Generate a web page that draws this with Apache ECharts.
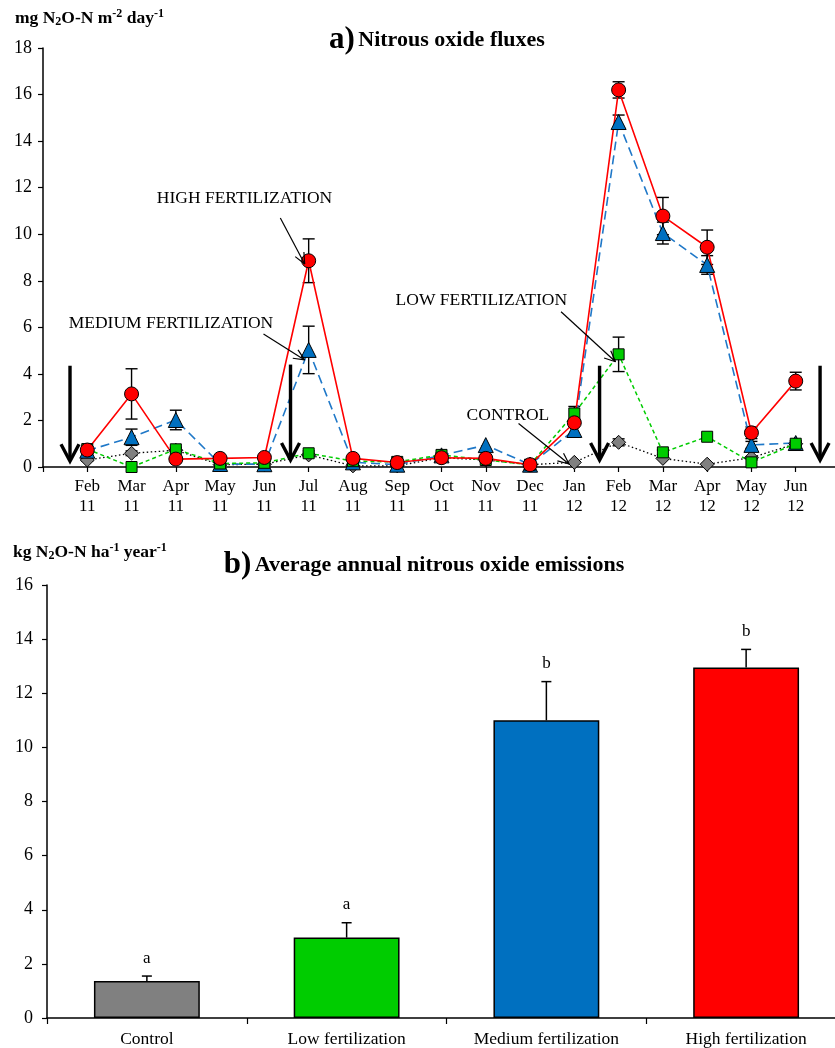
<!DOCTYPE html>
<html><head><meta charset="utf-8">
<script src="https://cdn.jsdelivr.net/npm/echarts@6/dist/echarts.min.js"></script>
<style>html,body{margin:0;padding:0;background:#fff;overflow:hidden}#c{width:860px;height:1048px}</style>
</head><body><div id="c"></div>
<script>
// ---------- Panel a: monthly fluxes (mg N2O-N m-2 day-1) ----------
const months = ['Feb\n11','Mar\n11','Apr\n11','May\n11','Jun\n11','Jul\n11','Aug\n11','Sep\n11','Oct\n11','Nov\n11','Dec\n11','Jan\n12','Feb\n12','Mar\n12','Apr\n12','May\n12','Jun\n12'];
const control    = [0.30,0.59,0.72,0.10,0.12,0.52,0.05,0.05,0.40,0.30,0.10,0.20,1.06,0.37,0.12,0.40,1.00];
const controlErr = [0.05,0.10,0,0,0,0.08,0,0,0,0,0,0,0.15,0,0,0,0];
const low        = [0.77,0.00,0.76,0.15,0.18,0.59,0.25,0.22,0.52,0.30,0.10,2.30,4.84,0.63,1.30,0.20,1.00];
const lowErr     = [0.05,0,0.08,0,0,0.10,0,0,0.08,0,0,0.30,0.74,0.10,0,0,0.08];
const medium     = [0.70,1.28,2.02,0.13,0.12,5.03,0.20,0.10,0.50,0.94,0.10,1.59,14.82,10.05,8.68,0.95,1.03];
const mediumErr  = [0,0.35,0.42,0,0,1.02,0,0,0,0,0,0.30,0.30,0.47,0.40,0.15,0.10];
const high       = [0.73,3.14,0.34,0.37,0.41,8.86,0.37,0.19,0.40,0.37,0.10,1.90,16.20,10.78,9.44,1.47,3.69];
const highErr    = [0.15,1.08,0,0,0,0.94,0,0,0,0,0,0,0.35,0.80,0.74,0.25,0.38];
const fluxTicks  = {min:0, max:18, interval:2};
// fertilization events (month-index position, arrow top, arrow bottom)
const fertEvents = [[-0.39,4.35,0.25],[4.59,4.40,0.30],[11.57,4.35,0.30],[16.55,4.35,0.30]];
// annotations: [text x, text y, arrow from x, from y, arrow to x, to y] in data units
const annotTexts = ['HIGH FERTILIZATION','MEDIUM FERTILIZATION','LOW FERTILIZATION','CONTROL'];
const annotPos = [
  [3.55,11.55, 4.36,10.70, 4.91,8.72],
  [1.89,6.19, 3.98,5.71, 4.91,4.60],
  [8.90,7.17, 10.70,6.67, 11.93,4.52],
  [9.50,2.23, 9.74,1.87, 10.88,0.13]
];

// ---------- Panel b: annual emissions (kg N2O-N ha-1 year-1) ----------
const treatments = ['Control','Low fertilization','Medium fertilization','High fertilization'];
const annual     = [1.37, 2.97, 11.00, 12.95];
const annualErr  = [0.18, 0.55, 1.43, 0.67];
const letters    = ['a','a','b','b'];
const barColors  = ['#808080','#00cc00','#0070c0','#ff0000'];
const annualTicks = {min:0, max:16, interval:2};

const FONT = '"Liberation Serif", "Times New Roman", serif';

function pairs(arr){ return arr.map((v,i)=>[i,v]); }
function triples(arr, err){ return arr.map((v,i)=>[i,v,err[i]]); }

function errRender(capW){
  return function(params, api){
    const x = api.value(0), y = api.value(1), e = api.value(2);
    if(!e) return null;
    const t = api.coord([x, y+e]), b = api.coord([x, y-e]);
    const st = {stroke:'#000', lineWidth:1.4};
    return {type:'group', children:[
      {type:'line', shape:{x1:t[0],y1:t[1],x2:b[0],y2:b[1]}, style:st},
      {type:'line', shape:{x1:t[0]-capW,y1:t[1],x2:t[0]+capW,y2:t[1]}, style:st},
      {type:'line', shape:{x1:b[0]-capW,y1:b[1],x2:b[0]+capW,y2:b[1]}, style:st}
    ]};
  };
}

function errSeries(arr, err){
  return {type:'custom', xAxisIndex:0, yAxisIndex:0, z:1, silent:true,
    data:triples(arr, err), encode:{x:0,y:1}, renderItem:errRender(6)};
}

function lineSeries(name, arr, color, lineType, lineW, symbol, size, fill){
  return {name, type:'line', xAxisIndex:0, yAxisIndex:0, z:3, silent:true,
    data:pairs(arr), symbol, symbolSize:size, showSymbol:true,
    lineStyle:{color, type:lineType, width:lineW},
    itemStyle:{color:fill, borderColor:'#000', borderWidth:1},
    emphasis:{disabled:true}};
}

function headLines(p1, p2, len, ang, st){
  const dx = p2[0]-p1[0], dy = p2[1]-p1[1];
  const a = Math.atan2(dy, dx);
  const out = [];
  [ang, -ang].forEach(s=>{
    const b = a + Math.PI - s;
    out.push({type:'line', shape:{x1:p2[0], y1:p2[1], x2:p2[0]+len*Math.cos(b), y2:p2[1]+len*Math.sin(b)}, style:st});
  });
  return out;
}

const titleRich = {a:{fontFamily:FONT, fontSize:31, fontWeight:'bold', fill:'#000'}, t:{fontFamily:FONT, fontSize:22, fontWeight:'bold', fill:'#000'}};
const unitRich = {b:{fontFamily:FONT, fontSize:17.5, fontWeight:'bold', fill:'#000', lineHeight:20},
            sub:{fontFamily:FONT, fontSize:12, fontWeight:'bold', fill:'#000', verticalAlign:'bottom', lineHeight:20},
            sup:{fontFamily:FONT, fontSize:12, fontWeight:'bold', fill:'#000', verticalAlign:'top', lineHeight:20}};

const option = {
  animation:false,
  backgroundColor:'#fff',
  textStyle:{fontFamily:FONT},
  graphic:[
    {type:'text', x:437, y:40, style:{text:'{a|a)} {t|Nitrous oxide fluxes}', align:'center', verticalAlign:'middle', rich:titleRich}},
    {type:'text', x:424, y:565, style:{text:'{a|b)} {t|Average annual nitrous oxide emissions}', align:'center', verticalAlign:'middle', rich:titleRich}},
    {type:'text', x:15, y:18, style:{text:'{b|mg N}{sub|2}{b|O-N m}{sup|-2}{b| day}{sup|-1}', align:'left', verticalAlign:'middle', rich:unitRich}},
    {type:'text', x:13, y:552, style:{text:'{b|kg N}{sub|2}{b|O-N ha}{sup|-1}{b| year}{sup|-1}', align:'left', verticalAlign:'middle', rich:unitRich}}
  ],
  grid:[
    {left:43, width:797, top:48, height:419},
    {left:47, width:799, top:585, height:433}
  ],
  xAxis:[
    {type:'value', gridIndex:0, min:-1, max:17, interval:1,
     axisLine:{show:true, onZero:false, lineStyle:{color:'#000', width:1.5}},
     axisTick:{show:true, length:5, lineStyle:{color:'#000', width:1.2}},
     splitLine:{show:false},
     axisLabel:{formatter:v=> (v>=0 && v<months.length) ? months[v] : '', fontFamily:FONT, fontSize:17, color:'#000', lineHeight:20, margin:10, showMinLabel:true, showMaxLabel:true}},
    {type:'category', gridIndex:1, data:treatments, boundaryGap:true,
     axisLine:{show:true, lineStyle:{color:'#000', width:1.5}},
     axisTick:{show:true, length:6, alignWithLabel:false, lineStyle:{color:'#000', width:1.2}},
     axisLabel:{fontFamily:FONT, fontSize:17.5, color:'#000', margin:12, interval:0}}
  ],
  yAxis:[
    {type:'value', gridIndex:0, min:fluxTicks.min, max:fluxTicks.max, interval:fluxTicks.interval,
     axisLine:{show:true, onZero:false, lineStyle:{color:'#000', width:1.5}},
     axisTick:{show:true, length:5, lineStyle:{color:'#000', width:1.2}},
     splitLine:{show:false},
     axisLabel:{fontFamily:FONT, fontSize:18, color:'#000', margin:11}},
    {type:'value', gridIndex:1, min:annualTicks.min, max:annualTicks.max, interval:annualTicks.interval,
     axisLine:{show:true, onZero:false, lineStyle:{color:'#000', width:1.5}},
     axisTick:{show:true, length:5, lineStyle:{color:'#000', width:1.2}},
     splitLine:{show:false},
     axisLabel:{fontFamily:FONT, fontSize:18, color:'#000', margin:14}}
  ],
  series:[
    errSeries(control, controlErr),
    errSeries(medium, mediumErr),
    errSeries(low, lowErr),
    errSeries(high, highErr),
    lineSeries('Control', control, '#000', [1.5,2.5], 1.3, 'diamond', 14, '#808080'),
    lineSeries('Medium', medium, '#1f78c8', [9,5], 1.6, 'triangle', 15, '#0070c0'),
    lineSeries('Low', low, '#00cc00', [4,3], 1.5, 'rect', 11, '#00cc00'),
    lineSeries('High', high, '#ff0000', 'solid', 1.6, 'circle', 14, '#ff0000'),
    // fertilization arrows
    {type:'custom', xAxisIndex:0, yAxisIndex:0, z:4, silent:true, data:fertEvents, encode:{x:0,y:[1,2]},
     renderItem:function(params, api){
       const t = api.coord([api.value(0), api.value(1)]), b = api.coord([api.value(0), api.value(2)]);
       const st = {stroke:'#000', lineWidth:3.4, lineCap:'butt', lineJoin:'miter'};
       return {type:'group', children:[
         {type:'line', shape:{x1:t[0],y1:t[1],x2:b[0],y2:b[1]-1}, style:st},
         {type:'polyline', shape:{points:[[b[0]-9,b[1]-17],[b[0],b[1]],[b[0]+9,b[1]-17]]}, style:Object.assign({fill:null}, st)}
       ]};
     }},
    // annotations
    {type:'custom', xAxisIndex:0, yAxisIndex:0, z:5, silent:true, data:annotPos.map((p,i)=>p.concat([i])),
     encode:{x:0,y:1},
     renderItem:function(params, api){
       const tp = api.coord([api.value(0), api.value(1)]);
       const p1 = api.coord([api.value(2), api.value(3)]);
       const p2 = api.coord([api.value(4), api.value(5)]);
       const st = {stroke:'#000', lineWidth:1.2};
       return {type:'group', children:[
         {type:'text', x:tp[0], y:tp[1], style:{text:annotTexts[api.value(6)], font:'17.5px ' + FONT, fill:'#000', align:'center', verticalAlign:'middle'}},
         {type:'line', shape:{x1:p1[0],y1:p1[1],x2:p2[0],y2:p2[1]}, style:st}
       ].concat(headLines(p1, p2, 12, 0.42, st))};
     }},
    // panel b bars
    {type:'bar', xAxisIndex:1, yAxisIndex:1, barWidth:'53%', silent:true,
     data:annual.map((v,i)=>({value:v, itemStyle:{color:barColors[i]}})),
     itemStyle:{borderColor:'#000', borderWidth:1.5}},
    // panel b error bars + letters
    {type:'custom', xAxisIndex:1, yAxisIndex:1, z:4, silent:true,
     data:annual.map((v,i)=>[i, v, annualErr[i]]), encode:{x:0,y:1},
     renderItem:function(params, api){
       const i = api.value(0), v = api.value(1), e = api.value(2);
       const b = api.coord([i, v]), t = api.coord([i, v+e]);
       const st = {stroke:'#000', lineWidth:1.5};
       return {type:'group', children:[
         {type:'line', shape:{x1:t[0],y1:b[1],x2:t[0],y2:t[1]}, style:st},
         {type:'line', shape:{x1:t[0]-5,y1:t[1],x2:t[0]+5,y2:t[1]}, style:st},
         {type:'text', x:t[0], y:t[1]-18, style:{text:letters[i], font:'17px ' + FONT, fill:'#000', align:'center', verticalAlign:'middle'}}
       ]};
     }}
  ]
};
const chart = echarts.init(document.getElementById('c'), null, {renderer:'canvas'});
chart.setOption(option);
</script>
</body></html>
